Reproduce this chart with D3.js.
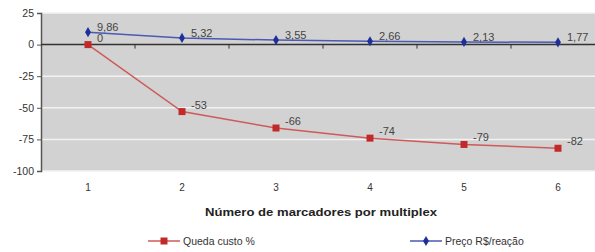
<!DOCTYPE html>
<html><head><meta charset="utf-8">
<script src="https://cdn.jsdelivr.net/npm/d3@7"></script>
<style>body{margin:0;background:#fff;} text{font-family:"Liberation Sans",Arial,sans-serif;}</style>
</head><body>
<svg id="c" width="595" height="252"></svg>
<script>
const categories = ["1","2","3","4","5","6"];
const queda = [0,-53,-66,-74,-79,-82];
const preco = [9.86,5.32,3.55,2.66,2.13,1.77];
const quedaLabels = ["0","-53","-66","-74","-79","-82"];
const precoLabels = ["9,86","5,32","3,55","2,66","2,13","1,77"];
const yTicks = [25,0,-25,-50,-75,-100];

const svg = d3.select("#c");
const pL = 41, pR = 605, pT = 13, pB = 171;
const x = d3.scaleBand().domain(categories).range([pL,pR]);
const y = d3.scaleLinear().domain([-100,25]).range([pB,pT]);
const cx = d => x(d)+x.bandwidth()/2;

svg.append("rect").attr("x",pL).attr("y",pT).attr("width",pR-pL).attr("height",pB-pT).attr("fill","#d2d2d2");
// gridlines
svg.append("g").selectAll("line").data(yTicks.filter(t=>t!==0)).join("line")
  .attr("x1",pL).attr("x2",pR).attr("y1",d=>y(d)).attr("y2",d=>y(d))
  .attr("stroke","#f2f2f2").attr("stroke-width",1.5);
// y axis
const ya = d3.axisLeft(y).tickValues(yTicks).tickSize(4).tickPadding(3).tickFormat(d=>String(d));
const yg = svg.append("g").attr("transform",`translate(${pL},0)`).call(ya);
yg.select(".domain").attr("stroke","#555").attr("stroke-width",1.5);
yg.selectAll(".tick line").attr("stroke","#555");
yg.selectAll("text").attr("font-size",10.5).attr("fill","#333");
// zero line with category ticks
svg.append("line").attr("x1",pL).attr("x2",pR).attr("y1",y(0)).attr("y2",y(0)).attr("stroke","#333").attr("stroke-width",1.5);
svg.append("g").selectAll("line").data(categories.slice(1)).join("line")
  .attr("x1",d=>x(d)).attr("x2",d=>x(d)).attr("y1",y(0)).attr("y2",y(0)+4).attr("stroke","#333");
// x labels
svg.append("g").selectAll("text").data(categories).join("text")
  .attr("x",d=>cx(d)).attr("y",191).attr("text-anchor","middle").attr("font-size",10).attr("fill","#333").text(d=>d);
svg.append("text").attr("x",205).attr("y",216).attr("font-size",11).attr("font-weight","bold").attr("fill","#222")
  .attr("textLength",232).attr("lengthAdjust","spacingAndGlyphs")
  .text("Número de marcadores por multiplex");

const line = d3.line().x((d,i)=>cx(categories[i])).y(d=>y(d));
const red = "#c22a2a", redL = "#cf5a5a", blue = "#1f2f9a", blueL = "#4a5ab5";
svg.append("path").attr("d",line(queda)).attr("fill","none").attr("stroke",redL).attr("stroke-width",1.5);
svg.append("path").attr("d",line(preco)).attr("fill","none").attr("stroke",blueL).attr("stroke-width",1.5);
svg.append("g").selectAll("rect").data(queda).join("rect")
  .attr("x",(d,i)=>cx(categories[i])-3.5).attr("y",d=>y(d)-3.5).attr("width",7).attr("height",7).attr("fill",red);
svg.append("g").selectAll("path").data(preco).join("path")
  .attr("d",d3.symbol(d3.symbolDiamond,30)())
  .attr("transform",(d,i)=>`translate(${cx(categories[i])},${y(d)})`).attr("fill",blue);
// data labels
svg.append("g").selectAll("text").data(queda).join("text")
  .attr("x",(d,i)=>cx(categories[i])+9).attr("y",d=>y(d)-3).attr("font-size",11).attr("fill","#444").text((d,i)=>quedaLabels[i]);
svg.append("g").selectAll("text").data(preco).join("text")
  .attr("x",(d,i)=>cx(categories[i])+9).attr("y",d=>y(d)-1).attr("font-size",11).attr("fill","#444").text((d,i)=>precoLabels[i]);

// legend
const lg = svg.append("g");
lg.append("line").attr("x1",148).attr("x2",180).attr("y1",241).attr("y2",241).attr("stroke",redL).attr("stroke-width",1.5);
lg.append("rect").attr("x",160.5).attr("y",237.5).attr("width",7).attr("height",7).attr("fill",red);
lg.append("text").attr("x",183).attr("y",245).attr("font-size",10.5).attr("fill","#333").text("Queda custo %");
lg.append("line").attr("x1",410).attr("x2",442).attr("y1",241).attr("y2",241).attr("stroke",blueL).attr("stroke-width",1.5);
lg.append("path").attr("d",d3.symbol(d3.symbolDiamond,30)()).attr("transform","translate(426,241)").attr("fill",blue);
lg.append("text").attr("x",445).attr("y",245).attr("font-size",10.5).attr("fill","#333").text("Preço R$/reação");
</script></body></html>
